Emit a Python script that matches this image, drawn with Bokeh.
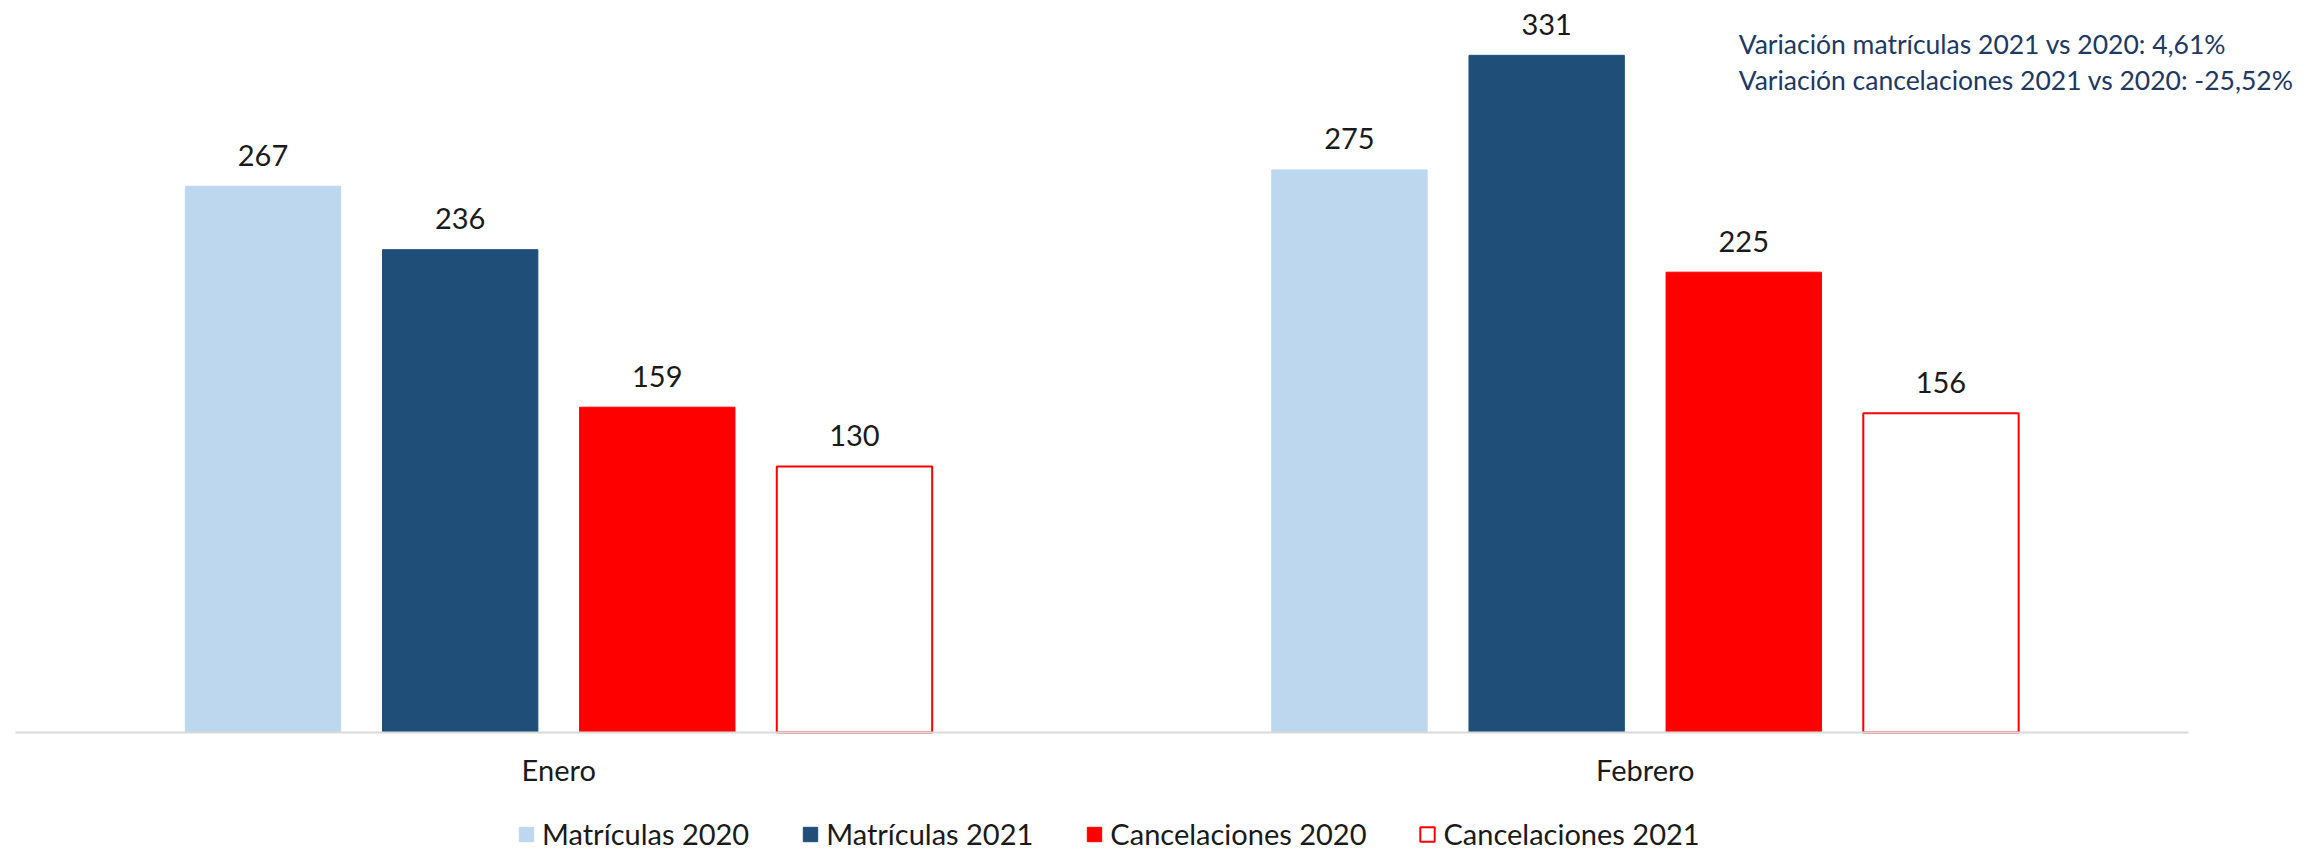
from bokeh.plotting import figure
from bokeh.models import ColumnDataSource, Range1d, LabelSet, Label, Legend, LegendItem, FixedTicker
from bokeh.transform import dodge
from bokeh.core.properties import value
from bokeh.embed import file_html
from bokeh.resources import INLINE

# ---- data ----
months = ["Enero", "Febrero"]
matriculas_2020 = [267, 275]
matriculas_2021 = [236, 331]
cancelaciones_2020 = [159, 225]
cancelaciones_2021 = [130, 156]
series_labels = ["Matrículas 2020", "Matrículas 2021", "Cancelaciones 2020", "Cancelaciones 2021"]
annotation_lines = ["Variación matrículas 2021 vs 2020: 4,61%",
                    "Variación cancelaciones 2021 vs 2020: -25,52%"]

FONT = "Lato"
TEXT_COLOR = "#1a1a1a"
FS = "29px"

# category centres (one unit per category)
xi = [i + 0.5 for i in range(len(months))]

src = ColumnDataSource(dict(
    xi=xi,
    month=months,
    m2020=matriculas_2020,
    m2021=matriculas_2021,
    c2020=cancelaciones_2020,
    c2021=cancelaciones_2021,
))

W, H = 2323, 851
p = figure(
    width=W, height=H,
    x_range=Range1d(-0.0138, len(months) + 0.1243),
    y_range=Range1d(-58.17, 357.8),
    output_backend="svg", toolbar_location=None,
    y_axis_location=None,
)
p.min_border = 0
p.min_border_left = 0
p.min_border_right = 0
p.min_border_top = 0
p.min_border_bottom = 0
p.outline_line_color = None
p.xgrid.visible = False
p.ygrid.visible = False
p.background_fill_color = "white"
p.border_fill_color = "white"

offsets = [-0.2722, -0.0907, 0.0907, 0.2722]
cols = ["m2020", "m2021", "c2020", "c2021"]
fills = ["#BDD7EE", "#1F4E79", "#FF0000", "#FFFFFF"]
lines = ["#BDD7EE", "#1F4E79", "#FF0000", "#FF0000"]
bw = 0.143

renderers = []
for off, col, fc, lc in zip(offsets, cols, fills, lines):
    r = p.vbar(x=dodge("xi", off), top=col, bottom=0, width=bw, source=src,
               fill_color=fc, line_color=lc, line_width=2 if fc == "#FFFFFF" else 1)
    renderers.append(r)
    lbl = LabelSet(x=dodge("xi", off), y=col, text=col, source=src,
                   text_align="center", text_baseline="middle", y_offset=31,
                   text_font=value(FONT), text_font_size=FS, text_color=TEXT_COLOR)
    p.add_layout(lbl)

# x axis (categories), drawn at y = 0 inside the frame
ax = p.xaxis[0]
ax.fixed_location = 0
ax.ticker = FixedTicker(ticks=xi)
ax.major_label_overrides = {x: m for x, m in zip(xi, months)}
ax.bounds = (0, len(months))
ax.axis_line_color = "#D9D9D9"
ax.axis_line_width = 2
ax.major_tick_line_color = None
ax.minor_tick_line_color = None
ax.major_tick_out = 0
ax.major_tick_in = 0
ax.minor_tick_out = 0
ax.minor_tick_in = 0
ax.major_label_standoff = 20
ax.major_label_text_font = FONT
ax.major_label_text_font_size = FS
ax.major_label_text_color = TEXT_COLOR

# annotation
for txt, yv in zip(annotation_lines, [336.3, 318.7]):
    p.add_layout(Label(x=1.586, y=yv, text=txt, text_align="left", text_baseline="middle",
                       text_font=FONT, text_font_size="26.5px", text_color="#203864"))

legend = Legend(
    items=[LegendItem(label=l, renderers=[r]) for l, r in zip(series_labels, renderers)],
    orientation="horizontal", location=(517, 0),
    border_line_color=None, background_fill_alpha=0,
    padding=0, margin=0, spacing=52, label_standoff=7,
    glyph_width=18, glyph_height=18,
    label_text_font=FONT, label_text_font_size=FS, label_text_color=TEXT_COLOR,
)
p.add_layout(legend, "center")

open("out.html", "w").write(file_html(p, INLINE))
